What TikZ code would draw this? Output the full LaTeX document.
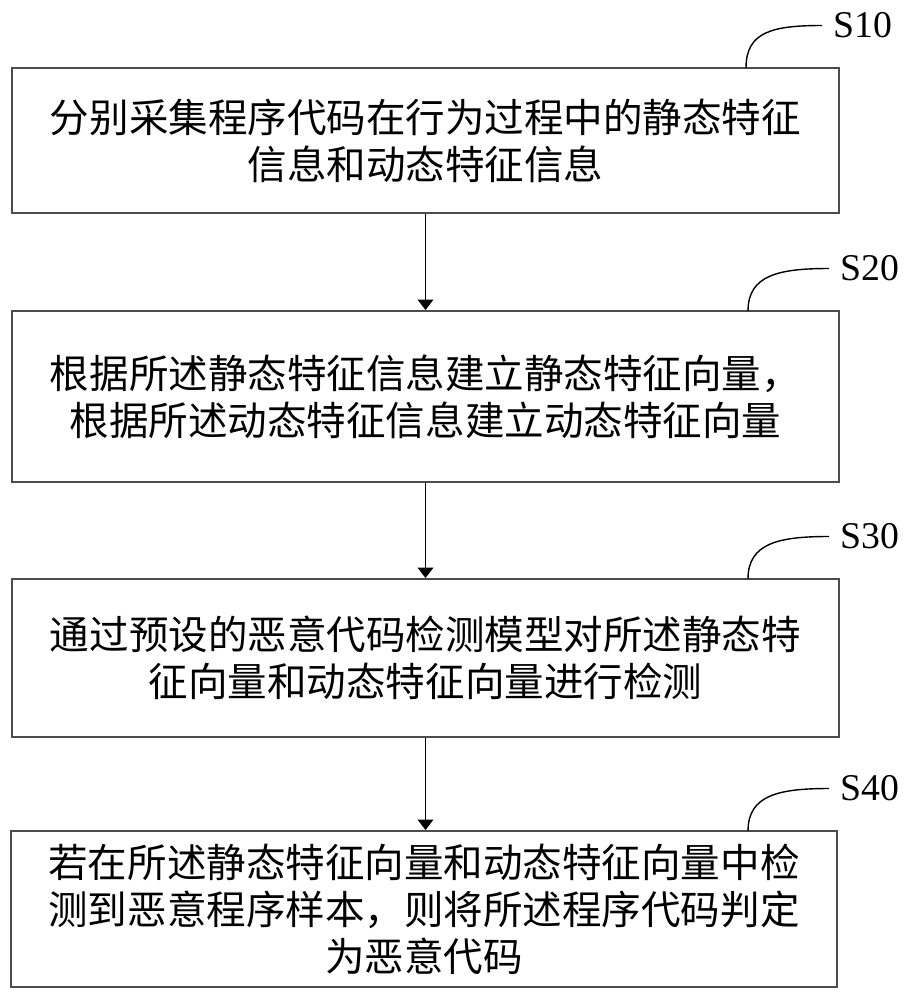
\documentclass[tikz,border=0pt]{standalone}
\usepackage{fontspec}
\setmainfont{Liberation Serif}
\newfontfamily\cjk{Noto Sans CJK SC}
\usetikzlibrary{arrows.meta}

\begin{document}
\begin{tikzpicture}[x=0.02cm,y=-0.02cm,
			box/.style={draw=black!70,line width=1.1pt,minimum width=16.54cm,align=center,inner sep=0pt,font=\cjk\fontsize{22.5pt}{26.7pt}\selectfont},
			steptag/.style={anchor=west,inner xsep=0.22cm,inner ysep=0pt,font=\fontsize{21.5pt}{24pt}\selectfont},
			flow/.style={-{Triangle[width=9pt,length=6pt]},line width=0.6pt},
			lead/.style={line width=0.8pt}]
			\useasboundingbox (0,0) rectangle (916,1000);

			% steps
			\node[box,minimum height=2.9cm] (s10) at (425.5,140.5) {分别采集程序代码在行为过程中的静态特征\\信息和动态特征信息};
			\node[box,minimum height=3.42cm] (s20) at (425.5,396.5) {根据所述静态特征信息建立静态特征向量，\\根据所述动态特征信息建立动态特征向量};
			\node[box,minimum height=3.16cm] (s30) at (425.5,658) {通过预设的恶意代码检测模型对所述静态特\\征向量和动态特征向量进行检测};
			\node[box,minimum height=3.12cm] (s40) at (424,909) {若在所述静态特征向量和动态特征向量中检\\测到恶意程序样本，则将所述程序代码判定\\为恶意代码};

			\draw[flow] (s10) -- (s20);
			\draw[flow] (s20) -- (s30);
			\draw[flow] (s30.south) -- (s30.south |- s40.north);

			% step tags
			\node[steptag] (t10) at (822,25.5) {S10};
			\node[steptag] (t20) at (829,268.5) {S20};
			\node[steptag] (t30) at (829,536.5) {S30};
			\node[steptag] (t40) at (829,788.5) {S40};

			\coordinate (c10) at (746,68);
			\coordinate (c20) at (748,311);
			\coordinate (c30) at (748,579);
			\coordinate (c40) at (748,831);

			\draw[lead] (c10) .. controls +(0,-36) and +(-50,0) .. (t10.west);
			\draw[lead] (c20) .. controls +(0,-36) and +(-50,0) .. (t20.west);
			\draw[lead] (c30) .. controls +(0,-36) and +(-50,0) .. (t30.west);
			\draw[lead] (c40) .. controls +(0,-36) and +(-50,0) .. (t40.west);
		\end{tikzpicture}
\end{document}
